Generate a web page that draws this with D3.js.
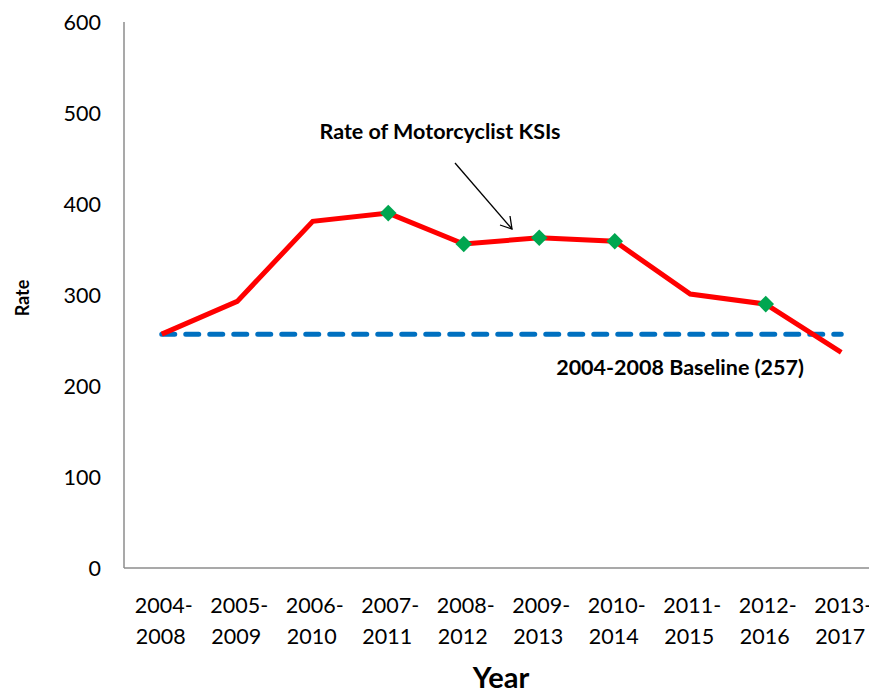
<!DOCTYPE html>
<html>
<head>
<meta charset="utf-8">
<script src="https://cdn.jsdelivr.net/npm/d3@7"></script>
<style>
body { margin: 0; background: #fff; }
text { font-family: Lato, "Open Sans", sans-serif; }
</style>
</head>
<body>
<svg width="869" height="692"></svg>
<script>
var periods = ["2004-2008", "2005-2009", "2006-2010", "2007-2011", "2008-2012",
               "2009-2013", "2010-2014", "2011-2015", "2012-2016", "2013-2017"];
var rates = [257, 293, 381, 390, 356, 363, 359, 301, 290, 237];
var markerIdx = [3, 4, 5, 6, 8];
var baseline = 257;
var yTicks = [0, 100, 200, 300, 400, 500, 600];

var svg = d3.select("svg");
var mLeft = 124, mTop = 22, mBottom = 568, bandW = 75.5;

var x = d3.scaleBand().domain(periods).range([mLeft, mLeft + bandW * periods.length]);
var y = d3.scaleLinear().domain([0, 600]).range([mBottom, mTop]);
var cx = function(p) { return x(p) + x.bandwidth() / 2; };

// axes
svg.append("line").attr("x1", mLeft).attr("x2", mLeft).attr("y1", mTop).attr("y2", mBottom)
   .attr("stroke", "#8c8c8c").attr("stroke-width", 1.5);
svg.append("line").attr("x1", mLeft).attr("x2", 869).attr("y1", mBottom).attr("y2", mBottom)
   .attr("stroke", "#8c8c8c").attr("stroke-width", 1.5);

svg.selectAll(".ytick").data(yTicks).enter().append("text")
   .attr("x", 101).attr("y", function(d) { return y(d); }).attr("dy", "0.35em")
   .attr("text-anchor", "end").attr("font-size", 21.5).attr("fill", "#000")
   .text(function(d) { return d; });

var xl = svg.selectAll(".xtick").data(periods).enter().append("text")
   .attr("text-anchor", "middle").attr("font-size", 21.5).attr("fill", "#000");
xl.append("tspan").attr("x", function(d) { return cx(d) + 2; }).attr("y", 613)
   .text(function(d) { return d.split("-")[0] + "-"; });
xl.append("tspan").attr("x", function(d) { return cx(d) - 1; }).attr("y", 644)
   .text(function(d) { return d.split("-")[1]; });

// baseline
svg.append("line")
   .attr("x1", cx(periods[0])).attr("x2", cx(periods[periods.length - 1]))
   .attr("y1", y(baseline)).attr("y2", y(baseline))
   .attr("stroke", "#0070c0").attr("stroke-width", 5)
   .attr("stroke-dasharray", "13,11").attr("stroke-linecap", "round");

// rate line
var line = d3.line().x(function(d, i) { return cx(periods[i]); }).y(function(d) { return y(d); });
svg.append("path").datum(rates).attr("d", line)
   .attr("fill", "none").attr("stroke", "#ff0000").attr("stroke-width", 5)
   .attr("stroke-linejoin", "miter");

svg.selectAll(".mk").data(markerIdx).enter().append("path")
   .attr("d", d3.symbol().type(d3.symbolDiamond2).size(175))
   .attr("transform", function(i) { return "translate(" + cx(periods[i]) + "," + y(rates[i]) + ")"; })
   .attr("fill", "#00a650");

// annotations
svg.append("text").attr("x", 440).attr("y", 139).attr("text-anchor", "middle")
   .attr("font-size", 21.5).attr("font-weight", "bold").text("Rate of Motorcyclist KSIs");
svg.append("line").attr("x1", 455).attr("y1", 163).attr("x2", 512).attr("y2", 229)
   .attr("stroke", "#000").attr("stroke-width", 1.3);
svg.append("path").attr("d", "M500,225 L512,229 L510,216")
   .attr("fill", "none").attr("stroke", "#000").attr("stroke-width", 1.3);

svg.append("text").attr("x", 680).attr("y", 375).attr("text-anchor", "middle")
   .attr("font-size", 21.5).attr("font-weight", "bold").text("2004-2008 Baseline (257)");

svg.append("text").attr("transform", "translate(29,298) rotate(-90)")
   .attr("text-anchor", "middle").attr("font-size", 18).attr("font-weight", "bold").text("Rate");
svg.append("text").attr("x", 501).attr("y", 688).attr("text-anchor", "middle")
   .attr("font-size", 29).attr("font-weight", "bold").text("Year");
</script>
</body>
</html>
